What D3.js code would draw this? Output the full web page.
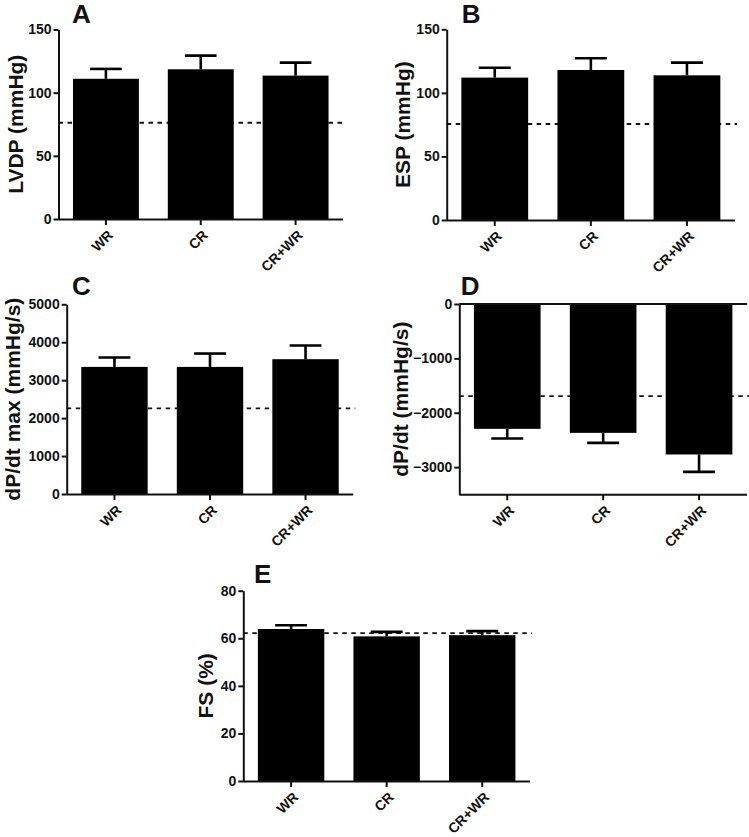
<!DOCTYPE html>
<html>
<head>
<meta charset="utf-8">
<script src="https://cdn.jsdelivr.net/npm/d3@7"></script>
<style>
  html, body { margin: 0; padding: 0; background: #fff; }
  svg text { font-family: "Liberation Sans", Arial, sans-serif; font-weight: bold; fill: #111; }
</style>
</head>
<body>
<svg id="chart" width="749" height="837"></svg>
<script>
// ---------- data ----------
const categories = ["WR", "CR", "CR+WR"];

const lvdpMean = [111, 118.5, 113.5];
const lvdpSem  = [7.8, 10.8, 10.3];
const lvdpRef  = 76.2;
const lvdpTicks = [0, 50, 100, 150];

const espMean = [112, 118, 113.8];
const espSem  = [7.8, 9.2, 10];
const espRef  = 75.5;
const espTicks = [0, 50, 100, 150];

const dpdtMaxMean = [3350, 3350, 3553];
const dpdtMaxSem  = [247, 352, 360];
const dpdtMaxRef  = 2255;
const dpdtMaxTicks = [0, 1000, 2000, 3000, 4000, 5000];

const dpdtMinMean = [-2296, -2370, -2768];
const dpdtMinSem  = [178, 184, 320];
const dpdtMinRef  = -1694;
const dpdtMinTicks = [0, -1000, -2000, -3000];

const fsMean = [63.9, 60.8, 61.3];
const fsSem  = [1.6, 1.9, 1.7];
const fsRef  = 62.2;
const fsTicks = [0, 20, 40, 60, 80];

// ---------- layout ----------
const panels = [
  {letter: "A", label: "LVDP (mmHg)", mean: lvdpMean, sem: lvdpSem, ref: lvdpRef, ticks: lvdpTicks, domain: [0, 150],
   left: 58.5, right: 343, top: 29.5, bottom: 219, labX: 15, letX: 72, letY: 23},
  {letter: "B", label: "ESP (mmHg)", mean: espMean, sem: espSem, ref: espRef, ticks: espTicks, domain: [0, 150],
   left: 446.7, right: 735, top: 29.3, bottom: 220, labX: 402, letX: 461.7, letY: 23},
  {letter: "C", label: "dP/dt max (mmHg/s)", mean: dpdtMaxMean, sem: dpdtMaxSem, ref: dpdtMaxRef, ticks: dpdtMaxTicks, domain: [0, 5000],
   left: 66.7, right: 353.3, top: 304.3, bottom: 494, labX: 12, letX: 72, letY: 295},
  {letter: "D", label: "dP/dt (mmHg/s)", mean: dpdtMinMean, sem: dpdtMinSem, ref: dpdtMinRef, ticks: dpdtMinTicks, domain: [-3500, 0],
   left: 459.3, right: 747, top: 304, bottom: 494.3, labX: 400, letX: 460.7, letY: 295, negative: true},
  {letter: "E", label: "FS (%)", mean: fsMean, sem: fsSem, ref: fsRef, ticks: fsTicks, domain: [0, 80],
   left: 243.3, right: 530, top: 590.7, bottom: 781, labX: 205, letX: 254, letY: 583}
];

const svg = d3.select("#chart");

panels.forEach(p => {
  const g = svg.append("g");
  const x = d3.scaleBand().domain(categories).range([p.left, p.right])
    .paddingInner(0.305).paddingOuter(0.1525);
  const y = d3.scaleLinear().domain(p.domain).range([p.bottom, p.top]);

  // reference dashed line (behind bars)
  g.append("line")
    .attr("x1", p.left).attr("x2", p.right + 2)
    .attr("y1", y(p.ref)).attr("y2", y(p.ref))
    .attr("stroke", "#111").attr("stroke-width", 1.8)
    .attr("stroke-dasharray", "4.5,4.5");

  // bars
  g.selectAll("rect.bar").data(categories).join("rect")
    .attr("class", "bar")
    .attr("x", d => x(d))
    .attr("width", x.bandwidth())
    .attr("y", (d, i) => Math.min(y(p.mean[i]), y(0)))
    .attr("height", (d, i) => Math.abs(y(p.mean[i]) - y(0)))
    .attr("fill", "#000");

  // error bars (one-sided)
  const capW = x.bandwidth() * 0.48;
  categories.forEach((c, i) => {
    const cx = x(c) + x.bandwidth() / 2;
    const endV = p.negative ? p.mean[i] - p.sem[i] : p.mean[i] + p.sem[i];
    g.append("line").attr("x1", cx).attr("x2", cx)
      .attr("y1", y(p.mean[i])).attr("y2", y(endV))
      .attr("stroke", "#000").attr("stroke-width", 2.6);
    g.append("line").attr("x1", cx - capW / 2).attr("x2", cx + capW / 2)
      .attr("y1", y(endV)).attr("y2", y(endV))
      .attr("stroke", "#000").attr("stroke-width", 2.6);
  });

  // y axis
  const yAxis = g.append("g").attr("transform", `translate(${p.left},0)`)
    .call(d3.axisLeft(y).tickValues(p.ticks).tickFormat(d3.format("d"))
      .tickSize(5).tickPadding(2).tickSizeOuter(0));
  yAxis.select(".domain").attr("stroke", "#111").attr("stroke-width", 2);
  yAxis.selectAll(".tick line").attr("stroke", "#111").attr("stroke-width", 2);
  yAxis.selectAll(".tick text").style("font-size", "14px").attr("fill", "#111");

  // x axis
  const xAxis = g.append("g").attr("transform", `translate(0,${p.bottom})`)
    .call(d3.axisBottom(x).tickSize(6).tickSizeOuter(0));
  xAxis.select(".domain").attr("d", `M${p.left},0.5H${p.right}`).attr("stroke", "#111").attr("stroke-width", 2);
  xAxis.selectAll(".tick line").attr("stroke", "#111").attr("stroke-width", 2);
  xAxis.selectAll(".tick text")
    .style("font-size", "14px")
    .attr("text-anchor", "end")
    .attr("x", 0).attr("y", 0).attr("dy", "0")
    .attr("transform", "translate(8,17) rotate(-45)");

  // zero line for negative panel
  if (p.negative) {
    g.append("line").attr("x1", p.left).attr("x2", p.right)
      .attr("y1", y(0)).attr("y2", y(0))
      .attr("stroke", "#111").attr("stroke-width", 2);
  }

  // y label
  const cy = (p.top + p.bottom) / 2;
  g.append("text")
    .attr("transform", `translate(${p.labX},${cy}) rotate(-90)`)
    .attr("text-anchor", "middle")
    .attr("dominant-baseline", "central")
    .style("font-size", "21px")
    .text(p.label);

  // panel letter
  g.append("text")
    .attr("x", p.letX).attr("y", p.letY)
    .style("font-size", "26px")
    .text(p.letter);
});
</script>
</body>
</html>
